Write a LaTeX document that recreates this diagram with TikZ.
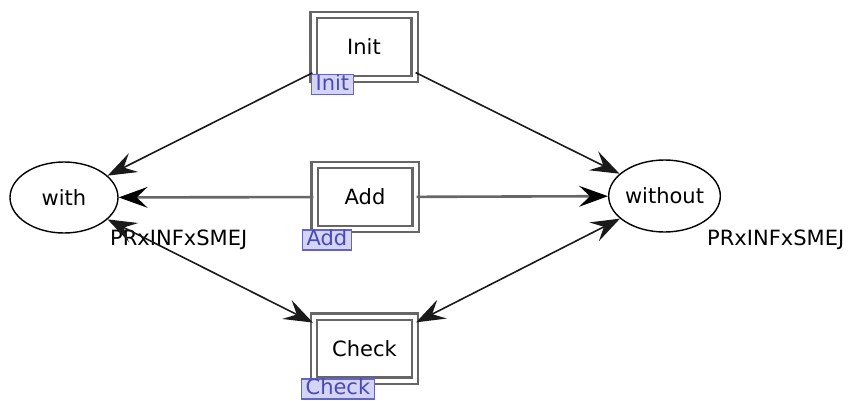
\documentclass[tikz,border=0pt]{standalone}
\usepackage{fontspec}
\setmainfont{DejaVu Sans}
\usetikzlibrary{arrows.meta,shapes.geometric}
\definecolor{tagfill}{HTML}{D4D4F6}
\definecolor{tagdraw}{HTML}{6464C8}
\definecolor{tagtext}{HTML}{4A4AB4}
\definecolor{edgec}{HTML}{1A1A1A}
\tikzset{
  trans/.style={draw=black!60, double=white, double distance=4pt, line width=2.2pt,
    minimum width=101pt, minimum height=64pt, inner sep=0pt, font=\fontsize{21}{25}\selectfont},
  place/.style={draw=black, ellipse, line width=1.4pt, inner sep=0pt, font=\fontsize{21}{25}\selectfont},
  tag/.style={draw=tagdraw, fill=tagfill, text=tagtext, line width=1.2pt, inner xsep=4pt, inner ysep=0.5pt,
    text height=15pt, text depth=4pt, font=\fontsize{21}{25}\selectfont, anchor=west},
  typ/.style={font=\fontsize{21}{25}\selectfont, anchor=base west, inner sep=0pt},
  arc/.style={draw=edgec, line width=1.6pt, -{Stealth[length=29pt,width=21pt,inset=11pt]}},
  grayarc/.style={draw=black!60, line width=2.6pt, -{Stealth[length=29pt,width=21pt,inset=11pt,color=black,line width=0pt]}},
  biarc/.style={draw=edgec, line width=1.6pt, {Stealth[length=29pt,width=21pt,inset=11pt]}-{Stealth[length=29pt,width=21pt,inset=11pt]}}
}
\begin{document}
\begin{tikzpicture}[x=1pt,y=-1pt]
\useasboundingbox[fill=white] (0,0) rectangle (854,400);
\node[trans] (init) at (364,47) {Init};
\node[trans] (add) at (365,197) {Add};
\node[trans] (check) at (364.5,348.5) {Check};
\node[place, minimum width=108pt, minimum height=71pt] (with) at (64,197.5) {with};
\node[place, minimum width=105pt, minimum height=72pt] (without) at (664.5,196) {without};
\node[tag] (initTag) at (311,84.5) {Init};
\node[tag] (addTag) at (302,240) {Add};
\node[tag] (checkTag) at (301,389) {Check};
\node[typ] (withType) at (110,245) {PRxINFxSMEJ};
\node[typ] (withoutType) at (707,245) {PRxINFxSMEJ};
\draw[arc] (init) -- (with);
\draw[arc] (init) -- (without);
\draw[grayarc] (add) -- (with);
\draw[grayarc] (add) -- (without);
\draw[biarc] (with) -- (check);
\draw[biarc] (check) -- (without);
\end{tikzpicture}
\end{document}
